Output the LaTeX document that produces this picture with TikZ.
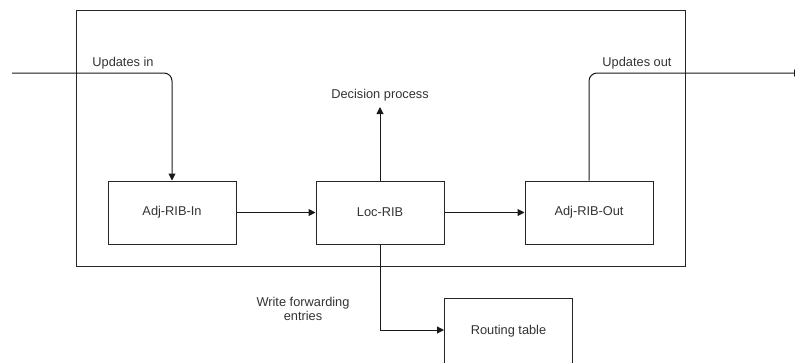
\documentclass[tikz,border=0pt]{standalone}
\usepackage{fontspec}
\setmainfont{Liberation Sans}
\usetikzlibrary{arrows.meta}
\begin{document}
\begin{tikzpicture}[x=1pt,y=-1pt,
  every node/.style={font=\fontsize{12.8}{14.5}\selectfont, text=black!80},
  ribbox/.style={draw=black!85, line width=1pt, minimum width=128pt, minimum height=63pt, inner sep=0pt},
  conn/.style={draw=black!90, line width=1pt},
  arr/.style={conn, -{Triangle[length=7pt,width=7pt]}},
  lbl/.style={inner sep=0pt}]
\useasboundingbox (0,0) rectangle (795,362);
\clip (0,0) rectangle (795,362);
% enclosing speaker frame
\draw[line width=1pt, draw=black!85] (76,10) rectangle (685,266);
% RIB tables
\node[ribbox] (adjin)  at (172,212.5) {Adj-RIB-In};
\node[ribbox] (loc)    at (380,212.5) {Loc-RIB};
\node[ribbox] (adjout) at (589,212.5) {Adj-RIB-Out};
\node[ribbox, minimum height=66pt] (rt) at (508.5,331) {Routing table};
% labels
\node[lbl] (updin)  at (123,63) {Updates in};
\node[lbl] (updout) at (637,63) {Updates out};
\node[lbl] (dec)    at (380,95) {Decision process};
\node[lbl, align=center] (wfe) at (303,309) {Write forwarding\\entries};
% free ends
\coordinate (inpt)  at (12,73);
\coordinate (outpt) at (801,73);
\coordinate (decpt) at (380,107);
% connectors
\draw[arr, rounded corners=8pt] (inpt) -| (adjin.north);
\draw[arr] (adjin) -- (loc);
\draw[arr] (loc) -- (adjout);
\draw[arr] (loc.north) -- (decpt);
\draw[arr, rounded corners=8pt] (adjout.north) |- (outpt);
\draw[arr] (loc.south) |- (rt.west |- 0,330);
\end{tikzpicture}
\end{document}
